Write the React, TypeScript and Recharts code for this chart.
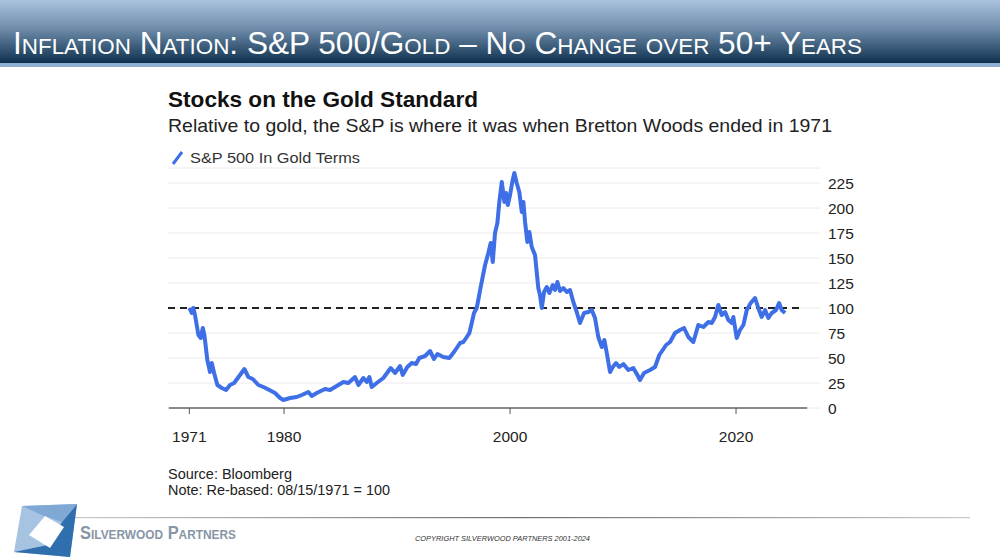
import React from 'react';
import { LineChart, Line, XAxis, YAxis, CartesianGrid, ReferenceLine } from 'recharts';

// S&P 500 priced in gold, re-based 08/15/1971 = 100
const years = [
  1971.62, 1971.83, 1971.97, 1972.12, 1972.42, 1972.63, 1972.81, 1972.95, 1973.21, 1973.45,
  1973.6, 1973.81, 1974.1, 1974.49, 1974.87, 1975.22, 1975.58, 1976.04, 1976.49, 1976.84,
  1977.23, 1977.73, 1978.17, 1978.7, 1979.2, 1979.65, 1979.94, 1980.53, 1981.12, 1981.57,
  1982.15, 1982.45, 1982.89, 1983.63, 1984.07, 1984.66, 1985.25, 1985.69, 1986.28, 1986.58,
  1987.02, 1987.32, 1987.55, 1987.76, 1988.2, 1988.79, 1989.44, 1989.82, 1990.27, 1990.5,
  1990.91, 1991.3, 1991.68, 1991.97, 1992.48, 1992.92, 1993.27, 1993.57, 1994.1, 1994.63,
  1995.04, 1995.58, 1995.87, 1996.17, 1996.4, 1996.61, 1996.81, 1997.05, 1997.19, 1997.35,
  1997.79, 1998.08, 1998.29, 1998.47, 1998.67, 1998.88, 1999.05, 1999.27, 1999.5, 1999.65,
  1999.8, 2000.0, 2000.2, 2000.38, 2000.59, 2000.82, 2001.04, 2001.18, 2001.33, 2001.53,
  2001.71, 2001.92, 2002.21, 2002.36, 2002.5, 2002.65, 2002.81, 2003.01, 2003.25, 2003.48,
  2003.78, 2003.98, 2004.19, 2004.42, 2004.72, 2005.02, 2005.31, 2005.6, 2005.9, 2006.19,
  2006.55, 2006.93, 2007.23, 2007.52, 2007.81, 2008.12, 2008.35, 2008.56, 2008.85, 2009.09,
  2009.38, 2009.67, 2010.03, 2010.47, 2010.91, 2011.27, 2011.5, 2011.86, 2012.39, 2012.83,
  2013.21, 2013.51, 2013.81, 2014.16, 2014.6, 2015.04, 2015.4, 2015.78, 2016.22, 2016.66,
  2017.11, 2017.55, 2017.85, 2018.14, 2018.43, 2018.73, 2019.03, 2019.32, 2019.62, 2019.76,
  2020.06, 2020.35, 2020.65, 2020.95, 2021.3, 2021.68, 2021.97, 2022.27, 2022.57, 2022.86,
  2023.16, 2023.54, 2023.81, 2024.04, 2024.34,
];

const spxInGold = [
  100, 95, 100, 93, 73, 70, 80, 73, 48, 36,
  45, 35, 23, 20, 18, 23, 25, 32, 39, 31,
  29, 23, 21, 18, 15, 10, 8, 10, 11, 13,
  16, 12, 15, 19, 18, 22, 26, 25, 31, 23,
  30, 26, 31, 21, 25, 30, 40, 35, 42, 33,
  41, 45, 44, 50, 52, 57, 49, 54, 51, 50,
  56, 65, 66, 71, 75, 85, 95, 100, 108, 118,
  143, 155, 165, 146, 175, 185, 206, 226, 206, 215,
  203, 213, 226, 235, 225, 216, 196, 206, 186, 166,
  176, 161, 153, 136, 120, 113, 100, 116, 121, 115,
  123, 118, 126, 117, 120, 116, 118, 106, 96, 85,
  95, 96, 98, 90, 71, 61, 68, 55, 36, 41,
  45, 41, 44, 38, 40, 33, 28, 35, 38, 41,
  53, 58, 63, 66, 75, 78, 80, 71, 66, 83,
  81, 86, 85, 91, 103, 93, 96, 88, 85, 91,
  70, 78, 83, 98, 105, 110, 100, 91, 98, 90,
  95, 98, 105, 98, 95,
];

const xTicks = [1971.62, 1980, 2000, 2020];
const yTicks = [0, 25, 50, 75, 100, 125, 150, 175, 200, 225];
const rebaseLevel = 100;

const chartData = years.map((year, i) => ({ year, value: spxInGold[i] }));

const sans = "'Liberation Sans', Arial, Helvetica, sans-serif";
const narrow = "'Liberation Sans Narrow', 'Liberation Sans', Arial, sans-serif";

export default function App() {
  return (
    <div style={{ position: 'absolute', left: 0, top: 0, width: 1000, height: 560, background: '#fff', overflow: 'hidden' }}>
      <svg width={1000} height={560} style={{ position: 'absolute', left: 0, top: 0 }}>
        <defs>
          <linearGradient id="hdr" x1="0" y1="0" x2="0" y2="1">
            <stop offset="0" stopColor="#aac3de" />
            <stop offset="0.45" stopColor="#6f8dab" />
            <stop offset="1" stopColor="#0e314e" />
          </linearGradient>
          <linearGradient id="rule" x1="0" y1="0" x2="1" y2="0">
            <stop offset="0" stopColor="#c8c8c8" />
            <stop offset="0.5" stopColor="#6f6f6f" />
            <stop offset="1" stopColor="#c8c8c8" />
          </linearGradient>
        </defs>

        {/* slide header */}
        <rect x={0} y={0} width={1000} height={63} fill="url(#hdr)" />
        <rect x={0} y={63} width={1000} height={4} fill="#8eafd2" />
        <text x={13} y={54} fill="#fff" fontSize={31} fontFamily={narrow} style={{ fontVariant: 'small-caps' }}
          textLength={849} lengthAdjust="spacingAndGlyphs">
          Inflation Nation: S&amp;P 500/Gold – No Change over 50+ Years
        </text>

        {/* chart titles */}
        <text x={168} y={107} fill="#111" fontSize={22} fontWeight="bold" fontFamily={sans}
          textLength={310} lengthAdjust="spacingAndGlyphs">Stocks on the Gold Standard</text>
        <text x={168} y={132} fill="#222" fontSize={19} fontFamily={sans}
          textLength={664} lengthAdjust="spacingAndGlyphs">
          Relative to gold, the S&amp;P is where it was when Bretton Woods ended in 1971
        </text>
        <line x1={173} y1={164} x2={182} y2={152} stroke="#3e6fe6" strokeWidth={3} />
        <text x={190} y={163} fill="#333" fontSize={15} fontFamily={sans}
          textLength={170} lengthAdjust="spacingAndGlyphs">S&amp;P 500 In Gold Terms</text>

        {/* source notes */}
        <text x={168} y={479} fill="#222" fontSize={14} fontFamily={sans}
          textLength={124} lengthAdjust="spacingAndGlyphs">Source: Bloomberg</text>
        <text x={168} y={495} fill="#222" fontSize={14} fontFamily={sans}
          textLength={222} lengthAdjust="spacingAndGlyphs">Note: Re-based: 08/15/1971 = 100</text>

        {/* footer */}
        <rect x={75} y={517} width={895} height={1.2} fill="url(#rule)" />
        <polygon points="22,506 77,504 70,557 14,552" fill="#a6c3e2" />
        <polygon points="77,504 70,557 14,552 48,545 62,522" fill="#2f6fae" />
        <polygon points="22,506 77,504 62,522 44,516" fill="#7fa8d4" />
        <polygon points="29,535 45,516 64,527 50,548" fill="#fff" />
        <text x={80} y={539} fill="#8796a6" fontSize={18} fontWeight="bold" fontFamily={sans} style={{ fontVariant: 'small-caps' }}
          textLength={156} lengthAdjust="spacingAndGlyphs">Silverwood Partners</text>
        <text x={415} y={541} fill="#333" fontSize={7.5} fontStyle="italic" fontFamily={sans}
          textLength={175} lengthAdjust="spacingAndGlyphs">COPYRIGHT SILVERWOOD PARTNERS 2001-2024</text>
      </svg>

      <div style={{ position: 'absolute', left: 150, top: 150, width: 720, height: 300 }}>
        <LineChart width={720} height={300} data={chartData} margin={{ top: 18, right: 0, bottom: 12, left: 18 }}>
          <CartesianGrid vertical={false} stroke="#eaeaea" />
          <XAxis
            type="number"
            dataKey="year"
            domain={[1969.73, 2027.43]}
            allowDataOverflow
            ticks={xTicks}
            tickFormatter={(v: number) => String(Math.floor(v))}
            axisLine={false}
            tickLine={{ stroke: '#555' }}
            tickSize={6}
            tickMargin={17}
            height={30}
            tick={{ fill: '#222', fontSize: 15.5, fontFamily: sans }}
          />
          <YAxis
            orientation="right"
            type="number"
            domain={[0, 240]}
            allowDataOverflow
            ticks={yTicks}
            axisLine={false}
            tickLine={false}
            width={50}
            tick={{ fill: '#222', fontSize: 15.5, fontFamily: sans }}
          />
          <ReferenceLine
            segment={[{ x: 1969.8, y: 0 }, { x: 2026.3, y: 0 }]}
            stroke="#666"
            strokeWidth={1.5}
          />
          <ReferenceLine
            segment={[{ x: 1969.73, y: rebaseLevel }, { x: 2025.84, y: rebaseLevel }]}
            stroke="#222"
            strokeWidth={2}
            strokeDasharray="7 5"
          />
          <Line
            type="linear"
            dataKey="value"
            stroke="#3e6fe6"
            strokeWidth={4}
            strokeLinejoin="round"
            dot={false}
            isAnimationActive={false}
          />
        </LineChart>
      </div>
    </div>
  );
}
